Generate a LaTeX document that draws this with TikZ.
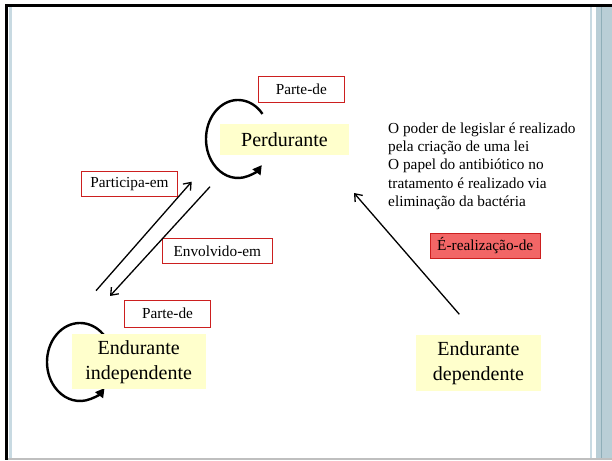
\documentclass[tikz,border=0pt]{standalone}
\usepackage{fontspec}
\setmainfont{Liberation Serif}
\usetikzlibrary{arrows.meta, % 箭头
  positioning}               % 相对地放置节点

\definecolor{fundoamarelo}{HTML}{FFFFCC}
\definecolor{bordavermelha}{HTML}{CC1F1F}
\definecolor{fundovermelho}{HTML}{F26666}
\definecolor{faixaclara}{HTML}{C8DAE2}
\definecolor{faixa}{HTML}{B9CED6}
\definecolor{faixaescura}{HTML}{8FAEB8}

\begin{document}
\begin{tikzpicture}[x=1pt,y=1pt,on grid,
  % 全局:坐标单位是pt,on grid 使相对位置按中心计算
  % 以下定义了几个主要的style:
  {entidade}/.style={fill=fundoamarelo,inner sep=0pt,align=center,
    font=\fontsize{20}{25}\selectfont},
  {relacao}/.style={draw=bordavermelha,fill=white,line width=0.9pt,inner sep=0pt,
    minimum height=25pt,font=\fontsize{15.3}{18}\selectfont},
  {laco}/.style={line width=2.4pt,-{Triangle[length=9pt,width=9.5pt]}},
  {seta}/.style={line width=1.3pt,-{Straight Barb[length=6.5pt,width=10pt]}}]

  \useasboundingbox (0,0) rectangle (612,460);

  % 幻灯片的边框
  \fill[black] (5,453) rectangle (612,456);
  \fill[black] (5,0) rectangle (8,456);
  \fill[faixaclara] (8.7,2) rectangle (12.3,453);
  \fill[faixaclara] (590,2) rectangle (592.3,453);
  \fill[faixa] (596,2) rectangle (612,453);
  \fill[faixaescura] (600.7,2) rectangle (602,453);
  \fill[black!25] (8,0) rectangle (612,1.6);

  % 自反的圆弧 (先画,在方框的后面)
  \draw [laco] (238,321) ++(40:32 and 39) arc [start angle=40,end angle=318,x radius=32,y radius=39];
  \draw [laco] (80,98) ++(40:33 and 39) arc [start angle=40,end angle=318,x radius=33,y radius=39];

  % 三个实体
  \node [entidade,minimum width=129pt,minimum height=30.7pt] (perd) at (284.5,320.3) {Perdurante};
  \node [entidade,minimum width=134pt,minimum height=55.3pt] (ind) at (138.7,98.3) {Endurante\\independente};
  \node [entidade,minimum width=125pt,minimum height=55.7pt] (dep) at (478.5,97.1) {Endurante\\dependente};

  % 关系的标签
  \node [relacao,minimum width=86pt,minimum height=26.7pt] (parte1) [above=50.3pt of perd,xshift=16.8pt] {Parte-de};
  \node [relacao,minimum width=86.4pt,minimum height=27.3pt] (parte2) [above=48pt of ind,xshift=28.8pt] {Parte-de};
  \node [relacao,minimum width=95.6pt,minimum height=24.3pt] (participa) at (129.5,276.1) {Participa-em};
  \node [relacao,minimum width=110pt,minimum height=24.6pt] (envolvido) at (217.3,209) {Envolvido-em};
  \node [relacao,fill=fundovermelho,minimum width=110.3pt] (realiza) at (485.2,214.2) {É-realização-de};

  \node [anchor=north west,inner sep=0pt,align=left,
    font=\fontsize{15.3}{18.3}\selectfont] (exemplo) at (388,337.5)
    {O poder de legislar é realizado\\pela criação de uma lei\\O papel do antibiótico no\\tratamento é realizado via\\eliminação da bactéria};

  % 箭头的端点
  \coordinate (p1) at (96,169.3);
  \coordinate (p2) at (191.7,278.3);
  \coordinate (e1) at (210,273.3);
  \coordinate (e2) at (110,164);
  \coordinate (r1) at (459.3,145.7);
  \coordinate (r2) at (354,267);

  \draw [seta] (p1) -- (p2);
  \draw [seta] (e1) -- (e2);
  \draw [seta] (r1) -- (r2);

\end{tikzpicture}
\end{document}
